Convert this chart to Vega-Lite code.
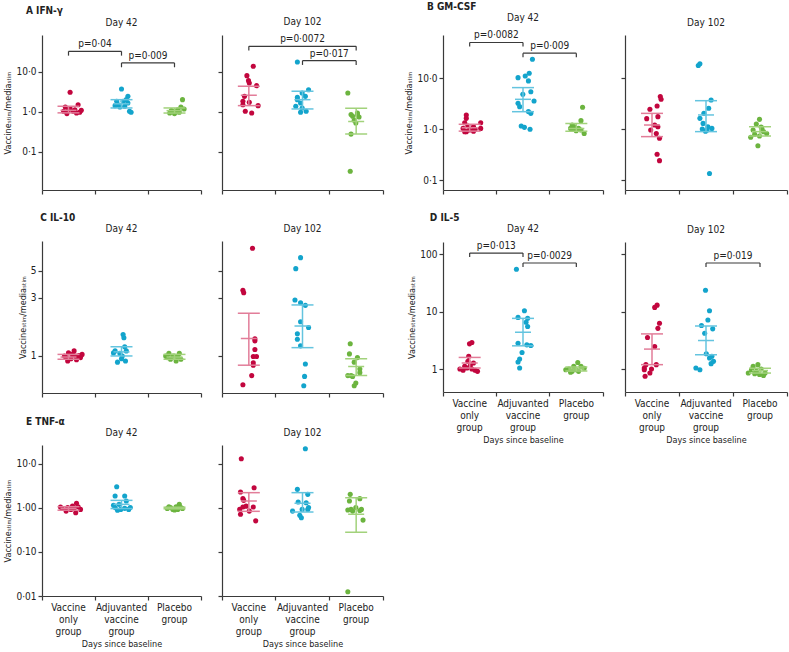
{
"$schema":"https://vega.github.io/schema/vega-lite/v6.json",
"background":"white",
"padding":{"left":3,"top":2,"right":2,"bottom":2},
"config":{
 "font":"Liberation Sans Narrow, DejaVu Sans Condensed, Open Sans, sans-serif",
 "view":{"stroke":null},
 "axis":{"grid":false,"domainColor":"#3a3a3a","tickColor":"#3a3a3a","domainWidth":1.2,"tickWidth":1.2,"tickSize":4,"labelFontSize":10,"labelColor":"#222","titleFontSize":9,"titleFontWeight":"normal","titleColor":"#222","labelPadding":2},
 "axisY":{"titlePadding":3},
 "axisX":{"titlePadding":3,"labelPadding":2},
 "title":{"fontSize":10,"fontWeight":"normal","color":"#222","offset":7}
},
"data":{"name":"all"},
"datasets":{"all":[
{"k":"pt","p":"A","d":42,"g":"V","v":3.1,"s":0.1},{"k":"pt","p":"A","d":42,"g":"V","v":1.52,"s":0.6},{"k":"pt","p":"A","d":42,"g":"V","v":1.33,"s":-0.2},{"k":"pt","p":"A","d":42,"g":"V","v":1.14,"s":0},{"k":"pt","p":"A","d":42,"g":"V","v":1.04,"s":0.3},{"k":"pt","p":"A","d":42,"g":"V","v":0.94,"s":0.5},{"k":"pt","p":"A","d":42,"g":"V","v":0.91,"s":-0.1},{"k":"pt","p":"A","d":42,"g":"V","v":0.98,"s":0.7},{"k":"pt","p":"A","d":42,"g":"V","v":1.21,"s":0.1},{"k":"pt","p":"A","d":42,"g":"V","v":1.1,"s":0.8},{"k":"pt","p":"A","d":42,"g":"V","v":1.14,"s":0.4},{"k":"pt","p":"A","d":42,"g":"V","v":1.04,"s":-0.3},
{"k":"pt","p":"A","d":42,"g":"A","v":3.76,"s":0},{"k":"pt","p":"A","d":42,"g":"A","v":2.46,"s":0.4},{"k":"pt","p":"A","d":42,"g":"A","v":1.85,"s":-0.3},{"k":"pt","p":"A","d":42,"g":"A","v":2.03,"s":0.3},{"k":"pt","p":"A","d":42,"g":"A","v":1.52,"s":-0.2},{"k":"pt","p":"A","d":42,"g":"A","v":1.44,"s":-0.4},{"k":"pt","p":"A","d":42,"g":"A","v":1.39,"s":0.2},{"k":"pt","p":"A","d":42,"g":"A","v":1.04,"s":0.5},{"k":"pt","p":"A","d":42,"g":"A","v":0.98,"s":0.6},{"k":"pt","p":"A","d":42,"g":"A","v":1.33,"s":-0.1},{"k":"pt","p":"A","d":42,"g":"A","v":1.68,"s":0.4},{"k":"pt","p":"A","d":42,"g":"A","v":1.85,"s":0.1},
{"k":"pt","p":"A","d":42,"g":"P","v":2.03,"s":0.5},{"k":"pt","p":"A","d":42,"g":"P","v":1.33,"s":0.4},{"k":"pt","p":"A","d":42,"g":"P","v":1.14,"s":0.2},{"k":"pt","p":"A","d":42,"g":"P","v":1.04,"s":-0.1},{"k":"pt","p":"A","d":42,"g":"P","v":0.94,"s":-0.3},{"k":"pt","p":"A","d":42,"g":"P","v":0.91,"s":0},{"k":"pt","p":"A","d":42,"g":"P","v":0.98,"s":0.3},{"k":"pt","p":"A","d":42,"g":"P","v":1.19,"s":0.6},{"k":"pt","p":"A","d":42,"g":"P","v":1.08,"s":-0.2},{"k":"pt","p":"A","d":42,"g":"P","v":1.0,"s":0.1},
{"k":"pt","p":"A","d":102,"g":"V","v":13.9,"s":0.3},{"k":"pt","p":"A","d":102,"g":"V","v":8.1,"s":-0.1},{"k":"pt","p":"A","d":102,"g":"V","v":6.07,"s":0},{"k":"pt","p":"A","d":102,"g":"V","v":5.3,"s":0.05},{"k":"pt","p":"A","d":102,"g":"V","v":4.55,"s":0.5},{"k":"pt","p":"A","d":102,"g":"V","v":2.46,"s":-0.25},{"k":"pt","p":"A","d":102,"g":"V","v":1.85,"s":-0.35},{"k":"pt","p":"A","d":102,"g":"V","v":1.74,"s":0.05},{"k":"pt","p":"A","d":102,"g":"V","v":1.44,"s":0.6},{"k":"pt","p":"A","d":102,"g":"V","v":1.04,"s":-0.2},{"k":"pt","p":"A","d":102,"g":"V","v":0.94,"s":0.2},{"k":"pt","p":"A","d":102,"g":"V","v":1.52,"s":-0.35},
{"k":"pt","p":"A","d":102,"g":"A","v":17.8,"s":-0.3},{"k":"pt","p":"A","d":102,"g":"A","v":3.6,"s":0.4},{"k":"pt","p":"A","d":102,"g":"A","v":2.98,"s":0},{"k":"pt","p":"A","d":102,"g":"A","v":2.33,"s":-0.3},{"k":"pt","p":"A","d":102,"g":"A","v":1.68,"s":-0.1},{"k":"pt","p":"A","d":102,"g":"A","v":1.39,"s":-0.4},{"k":"pt","p":"A","d":102,"g":"A","v":1.26,"s":0},{"k":"pt","p":"A","d":102,"g":"A","v":1.04,"s":0.25},{"k":"pt","p":"A","d":102,"g":"A","v":0.98,"s":-0.1},{"k":"pt","p":"A","d":102,"g":"A","v":2.03,"s":-0.3},{"k":"pt","p":"A","d":102,"g":"A","v":2.46,"s":0.2},
{"k":"pt","p":"A","d":102,"g":"P","v":2.98,"s":-0.5},{"k":"pt","p":"A","d":102,"g":"P","v":0.86,"s":0.1},{"k":"pt","p":"A","d":102,"g":"P","v":0.86,"s":-0.3},{"k":"pt","p":"A","d":102,"g":"P","v":0.75,"s":0.2},{"k":"pt","p":"A","d":102,"g":"P","v":0.62,"s":-0.1},{"k":"pt","p":"A","d":102,"g":"P","v":0.53,"s":0},{"k":"pt","p":"A","d":102,"g":"P","v":0.78,"s":-0.2},{"k":"pt","p":"A","d":102,"g":"P","v":0.28,"s":-0.3},{"k":"pt","p":"A","d":102,"g":"P","v":0.033,"s":-0.35},{"k":"pt","p":"A","d":102,"g":"P","v":0.94,"s":0.1},
{"k":"pt","p":"B","d":42,"g":"V","v":1.89,"s":-0.2},{"k":"pt","p":"B","d":42,"g":"V","v":1.62,"s":-0.2},{"k":"pt","p":"B","d":42,"g":"V","v":1.33,"s":-0.3},{"k":"pt","p":"B","d":42,"g":"V","v":1.33,"s":0.7},{"k":"pt","p":"B","d":42,"g":"V","v":1.15,"s":-0.1},{"k":"pt","p":"B","d":42,"g":"V","v":1.11,"s":0.25},{"k":"pt","p":"B","d":42,"g":"V","v":1.03,"s":-0.4},{"k":"pt","p":"B","d":42,"g":"V","v":0.96,"s":0},{"k":"pt","p":"B","d":42,"g":"V","v":0.99,"s":0.35},{"k":"pt","p":"B","d":42,"g":"V","v":1.03,"s":0.7},{"k":"pt","p":"B","d":42,"g":"V","v":0.89,"s":-0.2},{"k":"pt","p":"B","d":42,"g":"V","v":0.91,"s":0.25},{"k":"pt","p":"B","d":42,"g":"V","v":0.89,"s":-0.3},
{"k":"pt","p":"B","d":42,"g":"A","v":23.4,"s":0.6},{"k":"pt","p":"B","d":42,"g":"A","v":12.4,"s":0.4},{"k":"pt","p":"B","d":42,"g":"A","v":11.0,"s":0.15},{"k":"pt","p":"B","d":42,"g":"A","v":10.2,"s":-0.3},{"k":"pt","p":"B","d":42,"g":"A","v":8.8,"s":0.35},{"k":"pt","p":"B","d":42,"g":"A","v":4.8,"s":0},{"k":"pt","p":"B","d":42,"g":"A","v":5.4,"s":0.5},{"k":"pt","p":"B","d":42,"g":"A","v":3.55,"s":0.7},{"k":"pt","p":"B","d":42,"g":"A","v":3.2,"s":-0.3},{"k":"pt","p":"B","d":42,"g":"A","v":2.75,"s":-0.2},{"k":"pt","p":"B","d":42,"g":"A","v":2.2,"s":0.35},{"k":"pt","p":"B","d":42,"g":"A","v":2.03,"s":0.5},{"k":"pt","p":"B","d":42,"g":"A","v":1.15,"s":-0.1},{"k":"pt","p":"B","d":42,"g":"A","v":1.08,"s":0.1},{"k":"pt","p":"B","d":42,"g":"A","v":0.99,"s":0.45},
{"k":"pt","p":"B","d":42,"g":"P","v":2.67,"s":0.4},{"k":"pt","p":"B","d":42,"g":"P","v":1.46,"s":0.3},{"k":"pt","p":"B","d":42,"g":"P","v":1.2,"s":-0.25},{"k":"pt","p":"B","d":42,"g":"P","v":1.03,"s":0.15},{"k":"pt","p":"B","d":42,"g":"P","v":0.99,"s":-0.25},{"k":"pt","p":"B","d":42,"g":"P","v":0.82,"s":0.5},{"k":"pt","p":"B","d":42,"g":"P","v":0.93,"s":0},{"k":"pt","p":"B","d":42,"g":"P","v":1.11,"s":-0.1},{"k":"pt","p":"B","d":42,"g":"P","v":0.96,"s":0.3},{"k":"pt","p":"B","d":42,"g":"P","v":1.03,"s":-0.35},
{"k":"pt","p":"B","d":102,"g":"V","v":4.33,"s":0.55},{"k":"pt","p":"B","d":102,"g":"V","v":3.83,"s":0.6},{"k":"pt","p":"B","d":102,"g":"V","v":2.84,"s":0.35},{"k":"pt","p":"B","d":102,"g":"V","v":2.44,"s":-0.1},{"k":"pt","p":"B","d":102,"g":"V","v":1.6,"s":-0.3},{"k":"pt","p":"B","d":102,"g":"V","v":1.75,"s":0.4},{"k":"pt","p":"B","d":102,"g":"V","v":1.2,"s":0.2},{"k":"pt","p":"B","d":102,"g":"V","v":1.11,"s":0.4},{"k":"pt","p":"B","d":102,"g":"V","v":0.96,"s":-0.05},{"k":"pt","p":"B","d":102,"g":"V","v":0.82,"s":0.3},{"k":"pt","p":"B","d":102,"g":"V","v":0.66,"s":0.5},{"k":"pt","p":"B","d":102,"g":"V","v":0.32,"s":0.35},{"k":"pt","p":"B","d":102,"g":"V","v":0.24,"s":0.5},
{"k":"pt","p":"B","d":102,"g":"A","v":17.6,"s":-0.45},{"k":"pt","p":"B","d":102,"g":"A","v":19.0,"s":-0.35},{"k":"pt","p":"B","d":102,"g":"A","v":3.72,"s":0.35},{"k":"pt","p":"B","d":102,"g":"A","v":2.55,"s":0.2},{"k":"pt","p":"B","d":102,"g":"A","v":2.03,"s":-0.1},{"k":"pt","p":"B","d":102,"g":"A","v":1.62,"s":-0.35},{"k":"pt","p":"B","d":102,"g":"A","v":1.29,"s":-0.15},{"k":"pt","p":"B","d":102,"g":"A","v":1.11,"s":0.15},{"k":"pt","p":"B","d":102,"g":"A","v":1.03,"s":0.4},{"k":"pt","p":"B","d":102,"g":"A","v":1.0,"s":-0.2},{"k":"pt","p":"B","d":102,"g":"A","v":0.96,"s":0.1},{"k":"pt","p":"B","d":102,"g":"A","v":0.134,"s":0.25},{"k":"pt","p":"B","d":102,"g":"A","v":0.91,"s":0},
{"k":"pt","p":"B","d":102,"g":"P","v":1.55,"s":0},{"k":"pt","p":"B","d":102,"g":"P","v":1.25,"s":-0.2},{"k":"pt","p":"B","d":102,"g":"P","v":0.96,"s":-0.4},{"k":"pt","p":"B","d":102,"g":"P","v":0.89,"s":0.25},{"k":"pt","p":"B","d":102,"g":"P","v":0.79,"s":-0.3},{"k":"pt","p":"B","d":102,"g":"P","v":0.69,"s":-0.55},{"k":"pt","p":"B","d":102,"g":"P","v":0.73,"s":0},{"k":"pt","p":"B","d":102,"g":"P","v":0.82,"s":0.45},{"k":"pt","p":"B","d":102,"g":"P","v":0.47,"s":-0.1},{"k":"pt","p":"B","d":102,"g":"P","v":1.03,"s":0.15},{"k":"pt","p":"B","d":102,"g":"P","v":1.1,"s":0.1},
{"k":"pt","p":"C","d":42,"g":"V","v":1.06,"s":0},{"k":"pt","p":"C","d":42,"g":"V","v":1.03,"s":0.25},{"k":"pt","p":"C","d":42,"g":"V","v":1.0,"s":0.45},{"k":"pt","p":"C","d":42,"g":"V","v":1.01,"s":0.65},{"k":"pt","p":"C","d":42,"g":"V","v":0.97,"s":0.75},{"k":"pt","p":"C","d":42,"g":"V","v":0.97,"s":-0.15},{"k":"pt","p":"C","d":42,"g":"V","v":0.95,"s":0.15},{"k":"pt","p":"C","d":42,"g":"V","v":0.93,"s":0.5},{"k":"pt","p":"C","d":42,"g":"V","v":0.91,"s":-0.05},{"k":"pt","p":"C","d":42,"g":"V","v":1.1,"s":0.35},{"k":"pt","p":"C","d":42,"g":"V","v":1.03,"s":0.85},{"k":"pt","p":"C","d":42,"g":"V","v":1.0,"s":-0.25},
{"k":"pt","p":"C","d":42,"g":"A","v":1.5,"s":0.1},{"k":"pt","p":"C","d":42,"g":"A","v":1.41,"s":0.15},{"k":"pt","p":"C","d":42,"g":"A","v":1.19,"s":0.2},{"k":"pt","p":"C","d":42,"g":"A","v":1.1,"s":-0.4},{"k":"pt","p":"C","d":42,"g":"A","v":1.05,"s":-0.1},{"k":"pt","p":"C","d":42,"g":"A","v":0.89,"s":-0.25},{"k":"pt","p":"C","d":42,"g":"A","v":0.91,"s":0.25},{"k":"pt","p":"C","d":42,"g":"A","v":1.0,"s":0.05},{"k":"pt","p":"C","d":42,"g":"A","v":1.1,"s":0.3},{"k":"pt","p":"C","d":42,"g":"A","v":1.06,"s":-0.5},{"k":"pt","p":"C","d":42,"g":"A","v":0.95,"s":0},
{"k":"pt","p":"C","d":42,"g":"P","v":1.05,"s":-0.35},{"k":"pt","p":"C","d":42,"g":"P","v":1.05,"s":0.3},{"k":"pt","p":"C","d":42,"g":"P","v":1.0,"s":0},{"k":"pt","p":"C","d":42,"g":"P","v":0.94,"s":-0.25},{"k":"pt","p":"C","d":42,"g":"P","v":0.94,"s":0.4},{"k":"pt","p":"C","d":42,"g":"P","v":0.91,"s":0.1},{"k":"pt","p":"C","d":42,"g":"P","v":0.97,"s":-0.45},{"k":"pt","p":"C","d":42,"g":"P","v":0.97,"s":0.2},{"k":"pt","p":"C","d":42,"g":"P","v":1.0,"s":-0.1},{"k":"pt","p":"C","d":42,"g":"P","v":1.0,"s":-0.55},
{"k":"pt","p":"C","d":102,"g":"V","v":7.63,"s":0.25},{"k":"pt","p":"C","d":102,"g":"V","v":3.45,"s":-0.35},{"k":"pt","p":"C","d":102,"g":"V","v":3.3,"s":-0.3},{"k":"pt","p":"C","d":102,"g":"V","v":1.38,"s":0.4},{"k":"pt","p":"C","d":102,"g":"V","v":1.33,"s":0.4},{"k":"pt","p":"C","d":102,"g":"V","v":1.13,"s":0.4},{"k":"pt","p":"C","d":102,"g":"V","v":0.99,"s":0.3},{"k":"pt","p":"C","d":102,"g":"V","v":0.99,"s":0.5},{"k":"pt","p":"C","d":102,"g":"V","v":0.88,"s":0.3},{"k":"pt","p":"C","d":102,"g":"V","v":0.84,"s":0.3},{"k":"pt","p":"C","d":102,"g":"V","v":0.69,"s":0.2},{"k":"pt","p":"C","d":102,"g":"V","v":0.58,"s":-0.35},
{"k":"pt","p":"C","d":102,"g":"A","v":6.4,"s":-0.1},{"k":"pt","p":"C","d":102,"g":"A","v":5.2,"s":-0.4},{"k":"pt","p":"C","d":102,"g":"A","v":2.88,"s":-0.45},{"k":"pt","p":"C","d":102,"g":"A","v":2.73,"s":-0.1},{"k":"pt","p":"C","d":102,"g":"A","v":2.6,"s":0.2},{"k":"pt","p":"C","d":102,"g":"A","v":1.91,"s":-0.1},{"k":"pt","p":"C","d":102,"g":"A","v":1.71,"s":0.4},{"k":"pt","p":"C","d":102,"g":"A","v":1.52,"s":-0.3},{"k":"pt","p":"C","d":102,"g":"A","v":1.37,"s":-0.3},{"k":"pt","p":"C","d":102,"g":"A","v":1.21,"s":-0.1},{"k":"pt","p":"C","d":102,"g":"A","v":0.86,"s":0.2},{"k":"pt","p":"C","d":102,"g":"A","v":0.68,"s":0.15},{"k":"pt","p":"C","d":102,"g":"A","v":0.57,"s":0.1},
{"k":"pt","p":"C","d":102,"g":"P","v":1.26,"s":-0.35},{"k":"pt","p":"C","d":102,"g":"P","v":1.04,"s":-0.4},{"k":"pt","p":"C","d":102,"g":"P","v":0.97,"s":0.1},{"k":"pt","p":"C","d":102,"g":"P","v":0.89,"s":-0.1},{"k":"pt","p":"C","d":102,"g":"P","v":0.78,"s":0.25},{"k":"pt","p":"C","d":102,"g":"P","v":0.73,"s":0.25},{"k":"pt","p":"C","d":102,"g":"P","v":0.69,"s":-0.5},{"k":"pt","p":"C","d":102,"g":"P","v":0.69,"s":-0.3},{"k":"pt","p":"C","d":102,"g":"P","v":0.68,"s":-0.2},{"k":"pt","p":"C","d":102,"g":"P","v":0.57,"s":-0.1},{"k":"pt","p":"C","d":102,"g":"P","v":0.6,"s":0},
{"k":"pt","p":"D","d":42,"g":"V","v":2.89,"s":0.15},{"k":"pt","p":"D","d":42,"g":"V","v":2.74,"s":0},{"k":"pt","p":"D","d":42,"g":"V","v":1.66,"s":-0.05},{"k":"pt","p":"D","d":42,"g":"V","v":1.36,"s":-0.1},{"k":"pt","p":"D","d":42,"g":"V","v":1.11,"s":-0.3},{"k":"pt","p":"D","d":42,"g":"V","v":1.0,"s":0.15},{"k":"pt","p":"D","d":42,"g":"V","v":1.0,"s":-0.6},{"k":"pt","p":"D","d":42,"g":"V","v":1.04,"s":-0.15},{"k":"pt","p":"D","d":42,"g":"V","v":0.95,"s":0.35},{"k":"pt","p":"D","d":42,"g":"V","v":0.91,"s":0.5},{"k":"pt","p":"D","d":42,"g":"V","v":0.95,"s":-0.4},{"k":"pt","p":"D","d":42,"g":"V","v":1.14,"s":0.05},{"k":"pt","p":"D","d":42,"g":"V","v":1.27,"s":0.25},
{"k":"pt","p":"D","d":42,"g":"A","v":54.3,"s":-0.4},{"k":"pt","p":"D","d":42,"g":"A","v":10.3,"s":0.1},{"k":"pt","p":"D","d":42,"g":"A","v":7.9,"s":-0.3},{"k":"pt","p":"D","d":42,"g":"A","v":7.6,"s":0.3},{"k":"pt","p":"D","d":42,"g":"A","v":6.5,"s":0.2},{"k":"pt","p":"D","d":42,"g":"A","v":5.5,"s":0.3},{"k":"pt","p":"D","d":42,"g":"A","v":2.8,"s":-0.3},{"k":"pt","p":"D","d":42,"g":"A","v":2.63,"s":0.25},{"k":"pt","p":"D","d":42,"g":"A","v":2.56,"s":0.5},{"k":"pt","p":"D","d":42,"g":"A","v":1.94,"s":-0.05},{"k":"pt","p":"D","d":42,"g":"A","v":1.49,"s":-0.2},{"k":"pt","p":"D","d":42,"g":"A","v":1.32,"s":-0.3},{"k":"pt","p":"D","d":42,"g":"A","v":1.04,"s":-0.2},
{"k":"pt","p":"D","d":42,"g":"P","v":1.3,"s":0.1},{"k":"pt","p":"D","d":42,"g":"P","v":1.11,"s":-0.15},{"k":"pt","p":"D","d":42,"g":"P","v":1.11,"s":0.3},{"k":"pt","p":"D","d":42,"g":"P","v":1.0,"s":-0.45},{"k":"pt","p":"D","d":42,"g":"P","v":0.97,"s":0},{"k":"pt","p":"D","d":42,"g":"P","v":1.03,"s":0.5},{"k":"pt","p":"D","d":42,"g":"P","v":0.91,"s":-0.25},{"k":"pt","p":"D","d":42,"g":"P","v":0.91,"s":0.15},{"k":"pt","p":"D","d":42,"g":"P","v":0.88,"s":-0.35},{"k":"pt","p":"D","d":42,"g":"P","v":0.97,"s":-0.65},
{"k":"pt","p":"D","d":102,"g":"V","v":12.9,"s":0.35},{"k":"pt","p":"D","d":102,"g":"V","v":11.8,"s":0.2},{"k":"pt","p":"D","d":102,"g":"V","v":6.25,"s":0.5},{"k":"pt","p":"D","d":102,"g":"V","v":5.1,"s":0.4},{"k":"pt","p":"D","d":102,"g":"V","v":3.53,"s":-0.25},{"k":"pt","p":"D","d":102,"g":"V","v":2.47,"s":0.2},{"k":"pt","p":"D","d":102,"g":"V","v":1.19,"s":0.3},{"k":"pt","p":"D","d":102,"g":"V","v":1.19,"s":-0.35},{"k":"pt","p":"D","d":102,"g":"V","v":1.04,"s":-0.45},{"k":"pt","p":"D","d":102,"g":"V","v":1.0,"s":0},{"k":"pt","p":"D","d":102,"g":"V","v":0.85,"s":-0.1},{"k":"pt","p":"D","d":102,"g":"V","v":0.75,"s":-0.4},{"k":"pt","p":"D","d":102,"g":"V","v":0.97,"s":-0.45},
{"k":"pt","p":"D","d":102,"g":"A","v":23.5,"s":0},{"k":"pt","p":"D","d":102,"g":"A","v":10.3,"s":0.25},{"k":"pt","p":"D","d":102,"g":"A","v":7.1,"s":0.15},{"k":"pt","p":"D","d":102,"g":"A","v":5.7,"s":-0.25},{"k":"pt","p":"D","d":102,"g":"A","v":5.0,"s":0.45},{"k":"pt","p":"D","d":102,"g":"A","v":4.2,"s":-0.05},{"k":"pt","p":"D","d":102,"g":"A","v":1.04,"s":-0.6},{"k":"pt","p":"D","d":102,"g":"A","v":0.97,"s":-0.35},{"k":"pt","p":"D","d":102,"g":"A","v":1.84,"s":0.05},{"k":"pt","p":"D","d":102,"g":"A","v":1.66,"s":0.4},{"k":"pt","p":"D","d":102,"g":"A","v":1.24,"s":0.35},{"k":"pt","p":"D","d":102,"g":"A","v":1.36,"s":0.5},{"k":"pt","p":"D","d":102,"g":"A","v":1.55,"s":0.25},
{"k":"pt","p":"D","d":102,"g":"P","v":1.19,"s":-0.1},{"k":"pt","p":"D","d":102,"g":"P","v":1.11,"s":-0.4},{"k":"pt","p":"D","d":102,"g":"P","v":1.0,"s":0.1},{"k":"pt","p":"D","d":102,"g":"P","v":0.91,"s":-0.2},{"k":"pt","p":"D","d":102,"g":"P","v":0.85,"s":0.35},{"k":"pt","p":"D","d":102,"g":"P","v":0.83,"s":-0.3},{"k":"pt","p":"D","d":102,"g":"P","v":0.8,"s":0},{"k":"pt","p":"D","d":102,"g":"P","v":0.85,"s":-0.7},{"k":"pt","p":"D","d":102,"g":"P","v":0.77,"s":0.25},{"k":"pt","p":"D","d":102,"g":"P","v":0.97,"s":-0.5},
{"k":"pt","p":"E","d":42,"g":"V","v":1.28,"s":0.5},{"k":"pt","p":"E","d":42,"g":"V","v":1.11,"s":0.25},{"k":"pt","p":"E","d":42,"g":"V","v":1.02,"s":-0.05},{"k":"pt","p":"E","d":42,"g":"V","v":0.97,"s":-0.4},{"k":"pt","p":"E","d":42,"g":"V","v":0.93,"s":0.75},{"k":"pt","p":"E","d":42,"g":"V","v":0.85,"s":-0.15},{"k":"pt","p":"E","d":42,"g":"V","v":0.78,"s":0.45},{"k":"pt","p":"E","d":42,"g":"V","v":0.93,"s":0.15},{"k":"pt","p":"E","d":42,"g":"V","v":1.05,"s":-0.5},{"k":"pt","p":"E","d":42,"g":"V","v":0.97,"s":0.35},{"k":"pt","p":"E","d":42,"g":"V","v":1.07,"s":0.6},
{"k":"pt","p":"E","d":42,"g":"A","v":3.05,"s":-0.3},{"k":"pt","p":"E","d":42,"g":"A","v":1.87,"s":-0.4},{"k":"pt","p":"E","d":42,"g":"A","v":1.87,"s":0.2},{"k":"pt","p":"E","d":42,"g":"A","v":1.44,"s":0.3},{"k":"pt","p":"E","d":42,"g":"A","v":1.21,"s":-0.15},{"k":"pt","p":"E","d":42,"g":"A","v":1.02,"s":-0.4},{"k":"pt","p":"E","d":42,"g":"A","v":0.93,"s":-0.05},{"k":"pt","p":"E","d":42,"g":"A","v":0.93,"s":0.45},{"k":"pt","p":"E","d":42,"g":"A","v":0.98,"s":0.2},{"k":"pt","p":"E","d":42,"g":"A","v":1.02,"s":0.55},{"k":"pt","p":"E","d":42,"g":"A","v":0.89,"s":-0.25},{"k":"pt","p":"E","d":42,"g":"A","v":1.15,"s":-0.5},
{"k":"pt","p":"E","d":42,"g":"P","v":1.21,"s":0.3},{"k":"pt","p":"E","d":42,"g":"P","v":1.07,"s":0.1},{"k":"pt","p":"E","d":42,"g":"P","v":1.02,"s":-0.25},{"k":"pt","p":"E","d":42,"g":"P","v":0.97,"s":0.5},{"k":"pt","p":"E","d":42,"g":"P","v":0.97,"s":-0.45},{"k":"pt","p":"E","d":42,"g":"P","v":0.9,"s":0},{"k":"pt","p":"E","d":42,"g":"P","v":0.93,"s":0.2},{"k":"pt","p":"E","d":42,"g":"P","v":0.93,"s":-0.1},{"k":"pt","p":"E","d":42,"g":"P","v":1.02,"s":0.4},{"k":"pt","p":"E","d":42,"g":"P","v":1.07,"s":-0.35},
{"k":"pt","p":"E","d":102,"g":"V","v":13.1,"s":-0.45},{"k":"pt","p":"E","d":102,"g":"V","v":2.89,"s":0.35},{"k":"pt","p":"E","d":102,"g":"V","v":2.31,"s":-0.5},{"k":"pt","p":"E","d":102,"g":"V","v":1.63,"s":-0.35},{"k":"pt","p":"E","d":102,"g":"V","v":1.49,"s":-0.3},{"k":"pt","p":"E","d":102,"g":"V","v":1.05,"s":0.3},{"k":"pt","p":"E","d":102,"g":"V","v":1.05,"s":-0.35},{"k":"pt","p":"E","d":102,"g":"V","v":0.93,"s":-0.55},{"k":"pt","p":"E","d":102,"g":"V","v":0.85,"s":0.05},{"k":"pt","p":"E","d":102,"g":"V","v":0.72,"s":-0.5},{"k":"pt","p":"E","d":102,"g":"V","v":0.51,"s":0.45},{"k":"pt","p":"E","d":102,"g":"V","v":1.1,"s":-0.15},
{"k":"pt","p":"E","d":102,"g":"A","v":22.2,"s":0.2},{"k":"pt","p":"E","d":102,"g":"A","v":2.65,"s":-0.3},{"k":"pt","p":"E","d":102,"g":"A","v":2.04,"s":0.35},{"k":"pt","p":"E","d":102,"g":"A","v":1.37,"s":-0.25},{"k":"pt","p":"E","d":102,"g":"A","v":1.32,"s":0.25},{"k":"pt","p":"E","d":102,"g":"A","v":1.02,"s":0.4},{"k":"pt","p":"E","d":102,"g":"A","v":0.93,"s":0},{"k":"pt","p":"E","d":102,"g":"A","v":0.85,"s":-0.6},{"k":"pt","p":"E","d":102,"g":"A","v":0.68,"s":-0.15},{"k":"pt","p":"E","d":102,"g":"A","v":0.6,"s":-0.05},{"k":"pt","p":"E","d":102,"g":"A","v":0.93,"s":0.35},
{"k":"pt","p":"E","d":102,"g":"P","v":2.04,"s":-0.35},{"k":"pt","p":"E","d":102,"g":"P","v":1.63,"s":0.25},{"k":"pt","p":"E","d":102,"g":"P","v":1.44,"s":-0.4},{"k":"pt","p":"E","d":102,"g":"P","v":0.93,"s":0.35},{"k":"pt","p":"E","d":102,"g":"P","v":0.9,"s":-0.5},{"k":"pt","p":"E","d":102,"g":"P","v":1.02,"s":0},{"k":"pt","p":"E","d":102,"g":"P","v":0.85,"s":-0.2},{"k":"pt","p":"E","d":102,"g":"P","v":0.53,"s":0.45},{"k":"pt","p":"E","d":102,"g":"P","v":0.88,"s":0.25},{"k":"pt","p":"E","d":102,"g":"P","v":0.0125,"s":-0.5},{"k":"pt","p":"E","d":102,"g":"P","v":0.93,"s":-0.3},
{"k":"st","p":"A","d":42,"g":"V","lo":0.95,"med":1.1,"hi":1.39},{"k":"st","p":"A","d":42,"g":"A","lo":1.26,"med":1.6,"hi":2.03},{"k":"st","p":"A","d":42,"g":"P","lo":0.94,"med":1.08,"hi":1.26},
{"k":"st","p":"A","d":102,"g":"V","lo":1.44,"med":2.6,"hi":4.4},{"k":"st","p":"A","d":102,"g":"A","lo":1.19,"med":2.03,"hi":3.3},{"k":"st","p":"A","d":102,"g":"P","lo":0.28,"med":0.58,"hi":1.23},
{"k":"st","p":"B","d":42,"g":"V","lo":0.91,"med":1.06,"hi":1.24},{"k":"st","p":"B","d":42,"g":"A","lo":2.19,"med":3.83,"hi":6.5},{"k":"st","p":"B","d":42,"g":"P","lo":0.91,"med":1.03,"hi":1.29},
{"k":"st","p":"B","d":102,"g":"V","lo":0.71,"med":1.2,"hi":2.03},{"k":"st","p":"B","d":102,"g":"A","lo":0.89,"med":1.89,"hi":3.6},{"k":"st","p":"B","d":102,"g":"P","lo":0.73,"med":0.89,"hi":1.11},
{"k":"st","p":"C","d":42,"g":"V","lo":0.94,"med":0.98,"hi":1.03},{"k":"st","p":"C","d":42,"g":"A","lo":1.0,"med":1.08,"hi":1.19},{"k":"st","p":"C","d":42,"g":"P","lo":0.94,"med":0.98,"hi":1.03},
{"k":"st","p":"C","d":102,"g":"V","lo":0.84,"med":1.39,"hi":2.24},{"k":"st","p":"C","d":102,"g":"A","lo":1.17,"med":1.76,"hi":2.62},{"k":"st","p":"C","d":102,"g":"P","lo":0.69,"med":0.82,"hi":0.95},
{"k":"st","p":"D","d":42,"g":"V","lo":1.04,"med":1.27,"hi":1.59},{"k":"st","p":"D","d":42,"g":"A","lo":2.53,"med":4.36,"hi":7.6},{"k":"st","p":"D","d":42,"g":"P","lo":0.92,"med":1.0,"hi":1.08},
{"k":"st","p":"D","d":102,"g":"V","lo":1.19,"med":2.22,"hi":4.08},{"k":"st","p":"D","d":102,"g":"A","lo":1.77,"med":3.13,"hi":5.6},{"k":"st","p":"D","d":102,"g":"P","lo":0.85,"med":0.94,"hi":1.03},
{"k":"st","p":"E","d":42,"g":"V","lo":0.89,"med":0.98,"hi":1.07},{"k":"st","p":"E","d":42,"g":"A","lo":0.97,"med":1.21,"hi":1.49},{"k":"st","p":"E","d":42,"g":"P","lo":0.96,"med":0.98,"hi":1.04},
{"k":"st","p":"E","d":102,"g":"V","lo":0.84,"med":1.44,"hi":2.23},{"k":"st","p":"E","d":102,"g":"A","lo":0.81,"med":1.28,"hi":2.23},{"k":"st","p":"E","d":102,"g":"P","lo":0.28,"med":0.72,"hi":1.71},
{"k":"br","p":"A","d":42,"g1":"V","g2":"A","y":32.8,"y0":25.6,"t":"p=0·04","mid":false},
{"k":"br","p":"A","d":42,"g1":"A","g2":"P","y":16.8,"y0":13.1,"t":"p=0·009","mid":false},
{"k":"br","p":"A","d":102,"g1":"V","g2":"P","tx":"A","y":43.8,"y0":34.2,"t":"p=0·0072","mid":true},
{"k":"br","p":"A","d":102,"g1":"A","g2":"P","y":19.2,"y0":15.0,"t":"p=0·017","mid":false},
{"k":"br","p":"B","d":42,"g1":"V","g2":"A","y":49.9,"y0":41.7,"t":"p=0·0082","mid":false},
{"k":"br","p":"B","d":42,"g1":"A","g2":"P","y":30.8,"y0":25.7,"t":"p=0·009","mid":false},
{"k":"br","p":"D","d":42,"g1":"V","g2":"A","y":104,"y0":88.8,"t":"p=0·013","mid":false},
{"k":"br","p":"D","d":42,"g1":"A","g2":"P","y":69.9,"y0":59.6,"t":"p=0·0029","mid":false},
{"k":"br","p":"D","d":102,"g1":"A","g2":"P","y":69.9,"y0":59.6,"t":"p=0·019","mid":false}
]},
"spacing":20,
"hconcat":[
{"spacing":18,"vconcat":[
 {"title":{"text":"A  IFN-γ","anchor":"start","fontWeight":"bold","fontSize":10,"dx":22,"offset":1},"spacing":15,"hconcat":[
  {"title":"Day 42","width":159,"height":155,"transform":[{"filter":"datum.p=='A'&&datum.d==42"}],"resolve":{"scale":{"color":"independent"}},"layer":[
   {"transform":[{"filter":"datum.k=='pt'"}],"mark":{"type":"circle","size":26,"opacity":1},"encoding":{
    "x":{"field":"g","type":"nominal","scale":{"domain":["V","A","P"],"paddingInner":0,"paddingOuter":0},"axis":{"title":null,"labels":false,"bandPosition":1,"tickExtra":true}},
    "xOffset":{"field":"s","type":"quantitative","scale":{"domain":[-1,1],"range":[10.5,42.5]}},
    "y":{"field":"v","type":"quantitative","scale":{"type":"log","domain":[0.0112,84],"nice":false},"axis":{"values":[0.1,1,10],"labelExpr":"replace(format(datum.value,'.1f'),'.','·')","title":"Vaccineₛₜᵢₘ/mediaₛₜᵢₘ"}},
    "color":{"field":"g","type":"nominal","scale":{"domain":["V","A","P"],"range":["#c2063e","#13a4cc","#6cb43f"]},"legend":null}}},
   {"transform":[{"filter":"datum.k=='st'"}],"mark":{"type":"rule","strokeWidth":1.5},"encoding":{"x":{"field":"g","type":"nominal"},"y":{"field":"lo","type":"quantitative"},"y2":{"field":"hi"},"color":{"field":"g","type":"nominal","scale":{"domain":["V","A","P"],"range":["#e27d99","#64c4df","#a2d27b"]},"legend":null}}},
   {"transform":[{"filter":"datum.k=='st'"},{"fold":["lo","hi"],"as":["q","qv"]}],"mark":{"type":"tick","size":22,"thickness":1.5,"opacity":1},"encoding":{"x":{"field":"g","type":"nominal"},"y":{"field":"qv","type":"quantitative"},"color":{"field":"g","type":"nominal","scale":{"domain":["V","A","P"],"range":["#e27d99","#64c4df","#a2d27b"]},"legend":null}}},
   {"transform":[{"filter":"datum.k=='st'"}],"mark":{"type":"tick","size":16,"thickness":1.5,"opacity":1},"encoding":{"x":{"field":"g","type":"nominal"},"y":{"field":"med","type":"quantitative"},"color":{"field":"g","type":"nominal","scale":{"domain":["V","A","P"],"range":["#e27d99","#64c4df","#a2d27b"]},"legend":null}}},
   {"transform":[{"filter":"datum.k=='br'"}],"mark":{"type":"rule","color":"#3a3a3a","strokeWidth":1.2},"encoding":{"x":{"field":"g1","type":"nominal"},"x2":{"field":"g2"},"y":{"field":"y","type":"quantitative"}}},
   {"transform":[{"filter":"datum.k=='br'"},{"fold":["g1","g2"],"as":["e","gx"]}],"mark":{"type":"rule","color":"#3a3a3a","strokeWidth":1.2},"encoding":{"x":{"field":"gx","type":"nominal"},"y":{"field":"y","type":"quantitative"},"y2":{"field":"y0"}}},
   {"transform":[{"filter":"datum.k=='br'&&!datum.mid"}],"mark":{"type":"text","baseline":"bottom","dy":-2,"fontSize":10,"color":"#222"},"encoding":{"x":{"field":"g1","type":"nominal","bandPosition":1},"y":{"field":"y","type":"quantitative"},"text":{"field":"t"}}}
  ]},
  {"title":"Day 102","width":161,"height":155,"transform":[{"filter":"datum.p=='A'&&datum.d==102"}],"resolve":{"scale":{"color":"independent"}},"layer":[
   {"transform":[{"filter":"datum.k=='pt'"}],"mark":{"type":"circle","size":26,"opacity":1},"encoding":{
    "x":{"field":"g","type":"nominal","scale":{"domain":["V","A","P"],"paddingInner":0,"paddingOuter":0},"axis":{"title":null,"labels":false,"bandPosition":1,"tickExtra":true}},
    "xOffset":{"field":"s","type":"quantitative","scale":{"domain":[-1,1],"range":[10.83,42.83]}},
    "y":{"field":"v","type":"quantitative","scale":{"type":"log","domain":[0.0112,84],"nice":false},"axis":{"values":[0.1,1,10],"labels":false,"title":null}},
    "color":{"field":"g","type":"nominal","scale":{"domain":["V","A","P"],"range":["#c2063e","#13a4cc","#6cb43f"]},"legend":null}}},
   {"transform":[{"filter":"datum.k=='st'"}],"mark":{"type":"rule","strokeWidth":1.5},"encoding":{"x":{"field":"g","type":"nominal"},"y":{"field":"lo","type":"quantitative"},"y2":{"field":"hi"},"color":{"field":"g","type":"nominal","scale":{"domain":["V","A","P"],"range":["#e27d99","#64c4df","#a2d27b"]},"legend":null}}},
   {"transform":[{"filter":"datum.k=='st'"},{"fold":["lo","hi"],"as":["q","qv"]}],"mark":{"type":"tick","size":22,"thickness":1.5,"opacity":1},"encoding":{"x":{"field":"g","type":"nominal"},"y":{"field":"qv","type":"quantitative"},"color":{"field":"g","type":"nominal","scale":{"domain":["V","A","P"],"range":["#e27d99","#64c4df","#a2d27b"]},"legend":null}}},
   {"transform":[{"filter":"datum.k=='st'"}],"mark":{"type":"tick","size":16,"thickness":1.5,"opacity":1},"encoding":{"x":{"field":"g","type":"nominal"},"y":{"field":"med","type":"quantitative"},"color":{"field":"g","type":"nominal","scale":{"domain":["V","A","P"],"range":["#e27d99","#64c4df","#a2d27b"]},"legend":null}}},
   {"transform":[{"filter":"datum.k=='br'"}],"mark":{"type":"rule","color":"#3a3a3a","strokeWidth":1.2},"encoding":{"x":{"field":"g1","type":"nominal"},"x2":{"field":"g2"},"y":{"field":"y","type":"quantitative"}}},
   {"transform":[{"filter":"datum.k=='br'"},{"fold":["g1","g2"],"as":["e","gx"]}],"mark":{"type":"rule","color":"#3a3a3a","strokeWidth":1.2},"encoding":{"x":{"field":"gx","type":"nominal"},"y":{"field":"y","type":"quantitative"},"y2":{"field":"y0"}}},
   {"transform":[{"filter":"datum.k=='br'&&!datum.mid"}],"mark":{"type":"text","baseline":"bottom","dy":-2,"fontSize":10,"color":"#222"},"encoding":{"x":{"field":"g1","type":"nominal","bandPosition":1},"y":{"field":"y","type":"quantitative"},"text":{"field":"t"}}},
   {"transform":[{"filter":"datum.k=='br'&&datum.mid"}],"mark":{"type":"text","baseline":"bottom","dy":-2,"fontSize":10,"color":"#222"},"encoding":{"x":{"field":"tx","type":"nominal"},"y":{"field":"y","type":"quantitative"},"text":{"field":"t"}}}
  ]}
 ]},
 {"spacing":19,"vconcat":[
  {"title":{"text":"C  IL-10","anchor":"start","fontWeight":"bold","fontSize":10,"dx":22,"offset":1},"spacing":15,"hconcat":[
   {"title":"Day 42","width":159,"height":152,"transform":[{"filter":"datum.p=='C'&&datum.d==42"}],"resolve":{"scale":{"color":"independent"}},"layer":[
    {"transform":[{"filter":"datum.k=='pt'"}],"mark":{"type":"circle","size":26,"opacity":1},"encoding":{
     "x":{"field":"g","type":"nominal","scale":{"domain":["V","A","P"],"paddingInner":0,"paddingOuter":0},"axis":{"title":null,"labels":false,"bandPosition":1,"tickExtra":true}},
     "xOffset":{"field":"s","type":"quantitative","scale":{"domain":[-1,1],"range":[10.5,42.5]}},
     "y":{"field":"v","type":"quantitative","scale":{"type":"log","domain":[0.497,8.76],"nice":false},"axis":{"values":[1,3,5],"format":"d","title":"Vaccineₛₜᵢₘ/mediaₛₜᵢₘ"}},
     "color":{"field":"g","type":"nominal","scale":{"domain":["V","A","P"],"range":["#c2063e","#13a4cc","#6cb43f"]},"legend":null}}},
    {"transform":[{"filter":"datum.k=='st'"}],"mark":{"type":"rule","strokeWidth":1.5},"encoding":{"x":{"field":"g","type":"nominal"},"y":{"field":"lo","type":"quantitative"},"y2":{"field":"hi"},"color":{"field":"g","type":"nominal","scale":{"domain":["V","A","P"],"range":["#e27d99","#64c4df","#a2d27b"]},"legend":null}}},
    {"transform":[{"filter":"datum.k=='st'"},{"fold":["lo","hi"],"as":["q","qv"]}],"mark":{"type":"tick","size":22,"thickness":1.5,"opacity":1},"encoding":{"x":{"field":"g","type":"nominal"},"y":{"field":"qv","type":"quantitative"},"color":{"field":"g","type":"nominal","scale":{"domain":["V","A","P"],"range":["#e27d99","#64c4df","#a2d27b"]},"legend":null}}},
    {"transform":[{"filter":"datum.k=='st'"}],"mark":{"type":"tick","size":16,"thickness":1.5,"opacity":1},"encoding":{"x":{"field":"g","type":"nominal"},"y":{"field":"med","type":"quantitative"},"color":{"field":"g","type":"nominal","scale":{"domain":["V","A","P"],"range":["#e27d99","#64c4df","#a2d27b"]},"legend":null}}}
   ]},
   {"title":"Day 102","width":161,"height":152,"transform":[{"filter":"datum.p=='C'&&datum.d==102"}],"resolve":{"scale":{"color":"independent"}},"layer":[
    {"transform":[{"filter":"datum.k=='pt'"}],"mark":{"type":"circle","size":26,"opacity":1},"encoding":{
     "x":{"field":"g","type":"nominal","scale":{"domain":["V","A","P"],"paddingInner":0,"paddingOuter":0},"axis":{"title":null,"labels":false,"bandPosition":1,"tickExtra":true}},
     "xOffset":{"field":"s","type":"quantitative","scale":{"domain":[-1,1],"range":[10.83,42.83]}},
     "y":{"field":"v","type":"quantitative","scale":{"type":"log","domain":[0.497,8.76],"nice":false},"axis":{"values":[1,3,5],"labels":false,"title":null}},
     "color":{"field":"g","type":"nominal","scale":{"domain":["V","A","P"],"range":["#c2063e","#13a4cc","#6cb43f"]},"legend":null}}},
    {"transform":[{"filter":"datum.k=='st'"}],"mark":{"type":"rule","strokeWidth":1.5},"encoding":{"x":{"field":"g","type":"nominal"},"y":{"field":"lo","type":"quantitative"},"y2":{"field":"hi"},"color":{"field":"g","type":"nominal","scale":{"domain":["V","A","P"],"range":["#e27d99","#64c4df","#a2d27b"]},"legend":null}}},
    {"transform":[{"filter":"datum.k=='st'"},{"fold":["lo","hi"],"as":["q","qv"]}],"mark":{"type":"tick","size":22,"thickness":1.5,"opacity":1},"encoding":{"x":{"field":"g","type":"nominal"},"y":{"field":"qv","type":"quantitative"},"color":{"field":"g","type":"nominal","scale":{"domain":["V","A","P"],"range":["#e27d99","#64c4df","#a2d27b"]},"legend":null}}},
    {"transform":[{"filter":"datum.k=='st'"}],"mark":{"type":"tick","size":16,"thickness":1.5,"opacity":1},"encoding":{"x":{"field":"g","type":"nominal"},"y":{"field":"med","type":"quantitative"},"color":{"field":"g","type":"nominal","scale":{"domain":["V","A","P"],"range":["#e27d99","#64c4df","#a2d27b"]},"legend":null}}}
   ]}
  ]},
  {"title":{"text":"E  TNF-α","anchor":"start","fontWeight":"bold","fontSize":10,"dx":22,"offset":1},"spacing":15,"hconcat":[
   {"title":"Day 42","width":159,"height":151,"transform":[{"filter":"datum.p=='E'&&datum.d==42"}],"resolve":{"scale":{"color":"independent"}},"layer":[
    {"transform":[{"filter":"datum.k=='pt'"}],"mark":{"type":"circle","size":26,"opacity":1},"encoding":{
     "x":{"field":"g","type":"nominal","scale":{"domain":["V","A","P"],"paddingInner":0,"paddingOuter":0},"axis":{"title":"Days since baseline","bandPosition":1,"tickExtra":true,"labelAngle":0,"labelLineHeight":12,"labelExpr":"datum.value=='V'?['Vaccine','only','group']:datum.value=='A'?['Adjuvanted','vaccine','group']:datum.value=='P'?['Placebo','group']:''"}},
     "xOffset":{"field":"s","type":"quantitative","scale":{"domain":[-1,1],"range":[10.5,42.5]}},
     "y":{"field":"v","type":"quantitative","scale":{"type":"log","domain":[0.01,27],"nice":false},"axis":{"values":[0.01,0.1,1,10],"labelExpr":"datum.value>=10?'10·0':replace(format(datum.value,'.2f'),'.','·')","title":"Vaccineₛₜᵢₘ/mediaₛₜᵢₘ"}},
     "color":{"field":"g","type":"nominal","scale":{"domain":["V","A","P"],"range":["#c2063e","#13a4cc","#6cb43f"]},"legend":null}}},
    {"transform":[{"filter":"datum.k=='st'"}],"mark":{"type":"rule","strokeWidth":1.5},"encoding":{"x":{"field":"g","type":"nominal"},"y":{"field":"lo","type":"quantitative"},"y2":{"field":"hi"},"color":{"field":"g","type":"nominal","scale":{"domain":["V","A","P"],"range":["#e27d99","#64c4df","#a2d27b"]},"legend":null}}},
    {"transform":[{"filter":"datum.k=='st'"},{"fold":["lo","hi"],"as":["q","qv"]}],"mark":{"type":"tick","size":22,"thickness":1.5,"opacity":1},"encoding":{"x":{"field":"g","type":"nominal"},"y":{"field":"qv","type":"quantitative"},"color":{"field":"g","type":"nominal","scale":{"domain":["V","A","P"],"range":["#e27d99","#64c4df","#a2d27b"]},"legend":null}}},
    {"transform":[{"filter":"datum.k=='st'"}],"mark":{"type":"tick","size":16,"thickness":1.5,"opacity":1},"encoding":{"x":{"field":"g","type":"nominal"},"y":{"field":"med","type":"quantitative"},"color":{"field":"g","type":"nominal","scale":{"domain":["V","A","P"],"range":["#e27d99","#64c4df","#a2d27b"]},"legend":null}}}
   ]},
   {"title":"Day 102","width":161,"height":151,"transform":[{"filter":"datum.p=='E'&&datum.d==102"}],"resolve":{"scale":{"color":"independent"}},"layer":[
    {"transform":[{"filter":"datum.k=='pt'"}],"mark":{"type":"circle","size":26,"opacity":1},"encoding":{
     "x":{"field":"g","type":"nominal","scale":{"domain":["V","A","P"],"paddingInner":0,"paddingOuter":0},"axis":{"title":"Days since baseline","bandPosition":1,"tickExtra":true,"labelAngle":0,"labelLineHeight":12,"labelExpr":"datum.value=='V'?['Vaccine','only','group']:datum.value=='A'?['Adjuvanted','vaccine','group']:datum.value=='P'?['Placebo','group']:''"}},
     "xOffset":{"field":"s","type":"quantitative","scale":{"domain":[-1,1],"range":[10.83,42.83]}},
     "y":{"field":"v","type":"quantitative","scale":{"type":"log","domain":[0.01,27],"nice":false},"axis":{"values":[0.01,0.1,1,10],"labels":false,"title":null}},
     "color":{"field":"g","type":"nominal","scale":{"domain":["V","A","P"],"range":["#c2063e","#13a4cc","#6cb43f"]},"legend":null}}},
    {"transform":[{"filter":"datum.k=='st'"}],"mark":{"type":"rule","strokeWidth":1.5},"encoding":{"x":{"field":"g","type":"nominal"},"y":{"field":"lo","type":"quantitative"},"y2":{"field":"hi"},"color":{"field":"g","type":"nominal","scale":{"domain":["V","A","P"],"range":["#e27d99","#64c4df","#a2d27b"]},"legend":null}}},
    {"transform":[{"filter":"datum.k=='st'"},{"fold":["lo","hi"],"as":["q","qv"]}],"mark":{"type":"tick","size":22,"thickness":1.5,"opacity":1},"encoding":{"x":{"field":"g","type":"nominal"},"y":{"field":"qv","type":"quantitative"},"color":{"field":"g","type":"nominal","scale":{"domain":["V","A","P"],"range":["#e27d99","#64c4df","#a2d27b"]},"legend":null}}},
    {"transform":[{"filter":"datum.k=='st'"}],"mark":{"type":"tick","size":16,"thickness":1.5,"opacity":1},"encoding":{"x":{"field":"g","type":"nominal"},"y":{"field":"med","type":"quantitative"},"color":{"field":"g","type":"nominal","scale":{"domain":["V","A","P"],"range":["#e27d99","#64c4df","#a2d27b"]},"legend":null}}}
   ]}
  ]}
 ]}
]},
{"spacing":18,"vconcat":[
 {"title":{"text":"B  GM-CSF","anchor":"start","fontWeight":"bold","fontSize":10,"dx":22,"offset":1},"spacing":16,"hconcat":[
  {"title":"Day 42","width":160,"height":155,"transform":[{"filter":"datum.p=='B'&&datum.d==42"}],"resolve":{"scale":{"color":"independent"}},"layer":[
   {"transform":[{"filter":"datum.k=='pt'"}],"mark":{"type":"circle","size":26,"opacity":1},"encoding":{
    "x":{"field":"g","type":"nominal","scale":{"domain":["V","A","P"],"paddingInner":0,"paddingOuter":0},"axis":{"title":null,"labels":false,"bandPosition":1,"tickExtra":true}},
    "xOffset":{"field":"s","type":"quantitative","scale":{"domain":[-1,1],"range":[10.67,42.67]}},
    "y":{"field":"v","type":"quantitative","scale":{"type":"log","domain":[0.0637,70],"nice":false},"axis":{"values":[0.1,1,10],"labelExpr":"replace(format(datum.value,'.1f'),'.','·')","title":"Vaccineₛₜᵢₘ/mediaₛₜᵢₘ"}},
    "color":{"field":"g","type":"nominal","scale":{"domain":["V","A","P"],"range":["#c2063e","#13a4cc","#6cb43f"]},"legend":null}}},
   {"transform":[{"filter":"datum.k=='st'"}],"mark":{"type":"rule","strokeWidth":1.5},"encoding":{"x":{"field":"g","type":"nominal"},"y":{"field":"lo","type":"quantitative"},"y2":{"field":"hi"},"color":{"field":"g","type":"nominal","scale":{"domain":["V","A","P"],"range":["#e27d99","#64c4df","#a2d27b"]},"legend":null}}},
   {"transform":[{"filter":"datum.k=='st'"},{"fold":["lo","hi"],"as":["q","qv"]}],"mark":{"type":"tick","size":22,"thickness":1.5,"opacity":1},"encoding":{"x":{"field":"g","type":"nominal"},"y":{"field":"qv","type":"quantitative"},"color":{"field":"g","type":"nominal","scale":{"domain":["V","A","P"],"range":["#e27d99","#64c4df","#a2d27b"]},"legend":null}}},
   {"transform":[{"filter":"datum.k=='st'"}],"mark":{"type":"tick","size":16,"thickness":1.5,"opacity":1},"encoding":{"x":{"field":"g","type":"nominal"},"y":{"field":"med","type":"quantitative"},"color":{"field":"g","type":"nominal","scale":{"domain":["V","A","P"],"range":["#e27d99","#64c4df","#a2d27b"]},"legend":null}}},
   {"transform":[{"filter":"datum.k=='br'"}],"mark":{"type":"rule","color":"#3a3a3a","strokeWidth":1.2},"encoding":{"x":{"field":"g1","type":"nominal"},"x2":{"field":"g2"},"y":{"field":"y","type":"quantitative"}}},
   {"transform":[{"filter":"datum.k=='br'"},{"fold":["g1","g2"],"as":["e","gx"]}],"mark":{"type":"rule","color":"#3a3a3a","strokeWidth":1.2},"encoding":{"x":{"field":"gx","type":"nominal"},"y":{"field":"y","type":"quantitative"},"y2":{"field":"y0"}}},
   {"transform":[{"filter":"datum.k=='br'&&!datum.mid"}],"mark":{"type":"text","baseline":"bottom","dy":-2,"fontSize":10,"color":"#222"},"encoding":{"x":{"field":"g1","type":"nominal","bandPosition":1},"y":{"field":"y","type":"quantitative"},"text":{"field":"t"}}}
  ]},
  {"title":"Day 102","width":162,"height":155,"transform":[{"filter":"datum.p=='B'&&datum.d==102"}],"resolve":{"scale":{"color":"independent"}},"layer":[
   {"transform":[{"filter":"datum.k=='pt'"}],"mark":{"type":"circle","size":26,"opacity":1},"encoding":{
    "x":{"field":"g","type":"nominal","scale":{"domain":["V","A","P"],"paddingInner":0,"paddingOuter":0},"axis":{"title":null,"labels":false,"bandPosition":1,"tickExtra":true}},
    "xOffset":{"field":"s","type":"quantitative","scale":{"domain":[-1,1],"range":[11,43]}},
    "y":{"field":"v","type":"quantitative","scale":{"type":"log","domain":[0.0637,70],"nice":false},"axis":{"values":[0.1,1,10],"labels":false,"title":null}},
    "color":{"field":"g","type":"nominal","scale":{"domain":["V","A","P"],"range":["#c2063e","#13a4cc","#6cb43f"]},"legend":null}}},
   {"transform":[{"filter":"datum.k=='st'"}],"mark":{"type":"rule","strokeWidth":1.5},"encoding":{"x":{"field":"g","type":"nominal"},"y":{"field":"lo","type":"quantitative"},"y2":{"field":"hi"},"color":{"field":"g","type":"nominal","scale":{"domain":["V","A","P"],"range":["#e27d99","#64c4df","#a2d27b"]},"legend":null}}},
   {"transform":[{"filter":"datum.k=='st'"},{"fold":["lo","hi"],"as":["q","qv"]}],"mark":{"type":"tick","size":22,"thickness":1.5,"opacity":1},"encoding":{"x":{"field":"g","type":"nominal"},"y":{"field":"qv","type":"quantitative"},"color":{"field":"g","type":"nominal","scale":{"domain":["V","A","P"],"range":["#e27d99","#64c4df","#a2d27b"]},"legend":null}}},
   {"transform":[{"filter":"datum.k=='st'"}],"mark":{"type":"tick","size":16,"thickness":1.5,"opacity":1},"encoding":{"x":{"field":"g","type":"nominal"},"y":{"field":"med","type":"quantitative"},"color":{"field":"g","type":"nominal","scale":{"domain":["V","A","P"],"range":["#e27d99","#64c4df","#a2d27b"]},"legend":null}}}
  ]}
 ]},
 {"title":{"text":"D  IL-5","anchor":"start","fontWeight":"bold","fontSize":10,"dx":22,"offset":1},"spacing":16,"hconcat":[
  {"title":"Day 42","width":160,"height":150,"transform":[{"filter":"datum.p=='D'&&datum.d==42"}],"resolve":{"scale":{"color":"independent"}},"layer":[
   {"transform":[{"filter":"datum.k=='pt'"}],"mark":{"type":"circle","size":26,"opacity":1},"encoding":{
    "x":{"field":"g","type":"nominal","scale":{"domain":["V","A","P"],"paddingInner":0,"paddingOuter":0},"axis":{"title":"Days since baseline","bandPosition":1,"tickExtra":true,"labelAngle":0,"labelLineHeight":12,"labelExpr":"datum.value=='V'?['Vaccine','only','group']:datum.value=='A'?['Adjuvanted','vaccine','group']:datum.value=='P'?['Placebo','group']:''"}},
    "xOffset":{"field":"s","type":"quantitative","scale":{"domain":[-1,1],"range":[10.67,42.67]}},
    "y":{"field":"v","type":"quantitative","scale":{"type":"log","domain":[0.398,162],"nice":false},"axis":{"values":[1,10,100],"format":"d","title":"Vaccineₛₜᵢₘ/mediaₛₜᵢₘ"}},
    "color":{"field":"g","type":"nominal","scale":{"domain":["V","A","P"],"range":["#c2063e","#13a4cc","#6cb43f"]},"legend":null}}},
   {"transform":[{"filter":"datum.k=='st'"}],"mark":{"type":"rule","strokeWidth":1.5},"encoding":{"x":{"field":"g","type":"nominal"},"y":{"field":"lo","type":"quantitative"},"y2":{"field":"hi"},"color":{"field":"g","type":"nominal","scale":{"domain":["V","A","P"],"range":["#e27d99","#64c4df","#a2d27b"]},"legend":null}}},
   {"transform":[{"filter":"datum.k=='st'"},{"fold":["lo","hi"],"as":["q","qv"]}],"mark":{"type":"tick","size":22,"thickness":1.5,"opacity":1},"encoding":{"x":{"field":"g","type":"nominal"},"y":{"field":"qv","type":"quantitative"},"color":{"field":"g","type":"nominal","scale":{"domain":["V","A","P"],"range":["#e27d99","#64c4df","#a2d27b"]},"legend":null}}},
   {"transform":[{"filter":"datum.k=='st'"}],"mark":{"type":"tick","size":16,"thickness":1.5,"opacity":1},"encoding":{"x":{"field":"g","type":"nominal"},"y":{"field":"med","type":"quantitative"},"color":{"field":"g","type":"nominal","scale":{"domain":["V","A","P"],"range":["#e27d99","#64c4df","#a2d27b"]},"legend":null}}},
   {"transform":[{"filter":"datum.k=='br'"}],"mark":{"type":"rule","color":"#3a3a3a","strokeWidth":1.2},"encoding":{"x":{"field":"g1","type":"nominal"},"x2":{"field":"g2"},"y":{"field":"y","type":"quantitative"}}},
   {"transform":[{"filter":"datum.k=='br'"},{"fold":["g1","g2"],"as":["e","gx"]}],"mark":{"type":"rule","color":"#3a3a3a","strokeWidth":1.2},"encoding":{"x":{"field":"gx","type":"nominal"},"y":{"field":"y","type":"quantitative"},"y2":{"field":"y0"}}},
   {"transform":[{"filter":"datum.k=='br'&&!datum.mid"}],"mark":{"type":"text","baseline":"bottom","dy":-2,"fontSize":10,"color":"#222"},"encoding":{"x":{"field":"g1","type":"nominal","bandPosition":1},"y":{"field":"y","type":"quantitative"},"text":{"field":"t"}}}
  ]},
  {"title":"Day 102","width":162,"height":150,"transform":[{"filter":"datum.p=='D'&&datum.d==102"}],"resolve":{"scale":{"color":"independent"}},"layer":[
   {"transform":[{"filter":"datum.k=='pt'"}],"mark":{"type":"circle","size":26,"opacity":1},"encoding":{
    "x":{"field":"g","type":"nominal","scale":{"domain":["V","A","P"],"paddingInner":0,"paddingOuter":0},"axis":{"title":"Days since baseline","bandPosition":1,"tickExtra":true,"labelAngle":0,"labelLineHeight":12,"labelExpr":"datum.value=='V'?['Vaccine','only','group']:datum.value=='A'?['Adjuvanted','vaccine','group']:datum.value=='P'?['Placebo','group']:''"}},
    "xOffset":{"field":"s","type":"quantitative","scale":{"domain":[-1,1],"range":[11,43]}},
    "y":{"field":"v","type":"quantitative","scale":{"type":"log","domain":[0.398,162],"nice":false},"axis":{"values":[1,10,100],"labels":false,"title":null}},
    "color":{"field":"g","type":"nominal","scale":{"domain":["V","A","P"],"range":["#c2063e","#13a4cc","#6cb43f"]},"legend":null}}},
   {"transform":[{"filter":"datum.k=='st'"}],"mark":{"type":"rule","strokeWidth":1.5},"encoding":{"x":{"field":"g","type":"nominal"},"y":{"field":"lo","type":"quantitative"},"y2":{"field":"hi"},"color":{"field":"g","type":"nominal","scale":{"domain":["V","A","P"],"range":["#e27d99","#64c4df","#a2d27b"]},"legend":null}}},
   {"transform":[{"filter":"datum.k=='st'"},{"fold":["lo","hi"],"as":["q","qv"]}],"mark":{"type":"tick","size":22,"thickness":1.5,"opacity":1},"encoding":{"x":{"field":"g","type":"nominal"},"y":{"field":"qv","type":"quantitative"},"color":{"field":"g","type":"nominal","scale":{"domain":["V","A","P"],"range":["#e27d99","#64c4df","#a2d27b"]},"legend":null}}},
   {"transform":[{"filter":"datum.k=='st'"}],"mark":{"type":"tick","size":16,"thickness":1.5,"opacity":1},"encoding":{"x":{"field":"g","type":"nominal"},"y":{"field":"med","type":"quantitative"},"color":{"field":"g","type":"nominal","scale":{"domain":["V","A","P"],"range":["#e27d99","#64c4df","#a2d27b"]},"legend":null}}},
   {"transform":[{"filter":"datum.k=='br'"}],"mark":{"type":"rule","color":"#3a3a3a","strokeWidth":1.2},"encoding":{"x":{"field":"g1","type":"nominal"},"x2":{"field":"g2"},"y":{"field":"y","type":"quantitative"}}},
   {"transform":[{"filter":"datum.k=='br'"},{"fold":["g1","g2"],"as":["e","gx"]}],"mark":{"type":"rule","color":"#3a3a3a","strokeWidth":1.2},"encoding":{"x":{"field":"gx","type":"nominal"},"y":{"field":"y","type":"quantitative"},"y2":{"field":"y0"}}},
   {"transform":[{"filter":"datum.k=='br'&&!datum.mid"}],"mark":{"type":"text","baseline":"bottom","dy":-2,"fontSize":10,"color":"#222"},"encoding":{"x":{"field":"g1","type":"nominal","bandPosition":1},"y":{"field":"y","type":"quantitative"},"text":{"field":"t"}}}
  ]}
 ]}
]}
]
}
